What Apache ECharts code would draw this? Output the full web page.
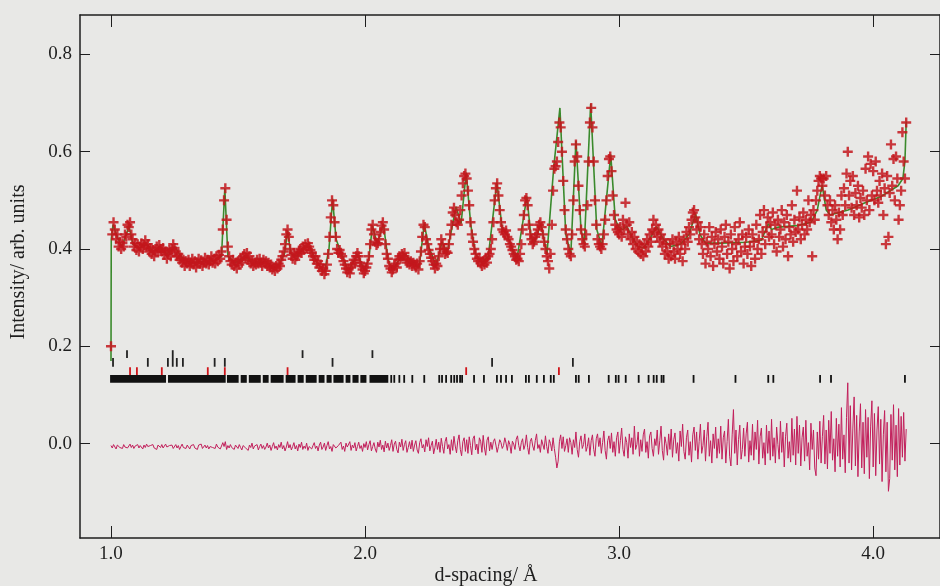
<!DOCTYPE html>
<html>
<head>
<meta charset="utf-8">
<script src="https://cdn.jsdelivr.net/npm/echarts@6/dist/echarts.min.js"></script>
<style>
  html, body { margin: 0; padding: 0; background: #e8e8e6; }
  #chart { width: 940px; height: 586px; }
</style>
</head>
<body>
<div id="chart"></div>
<script>
// observed intensities, one row per 0.1 Å, sampled every 0.005 Å from 1.000 Å
const obsStart = 1.0
const obsStep = 0.005
const observed = [
  0.20, 0.43, 0.455, 0.44, 0.42, 0.43, 0.405, 0.415, 0.40, 0.412, 0.405, 0.43, 0.425, 0.45, 0.445, 0.455, 0.43, 0.42, 0.405, 0.412,
  0.398, 0.41, 0.395, 0.405, 0.412, 0.40, 0.408, 0.418, 0.405, 0.41, 0.395, 0.402, 0.39, 0.398, 0.385, 0.395, 0.405, 0.395, 0.408, 0.40,
  0.395, 0.402, 0.388, 0.395, 0.38, 0.39, 0.398, 0.385, 0.40, 0.41, 0.402, 0.395, 0.385, 0.39, 0.378, 0.382, 0.372, 0.378, 0.365, 0.375,
  0.37, 0.378, 0.365, 0.372, 0.38, 0.368, 0.375, 0.362, 0.372, 0.38, 0.37, 0.377, 0.365, 0.372, 0.382, 0.37, 0.378, 0.368, 0.375, 0.385,
  0.372, 0.38, 0.37, 0.385, 0.375, 0.388, 0.38, 0.395, 0.44, 0.50, 0.525, 0.46, 0.405, 0.385, 0.375, 0.368, 0.378, 0.365, 0.372, 0.36,
  0.375, 0.368, 0.38, 0.372, 0.385, 0.39, 0.382, 0.392, 0.378, 0.385, 0.37, 0.375, 0.365, 0.372, 0.368, 0.378, 0.37, 0.38, 0.372, 0.365,
  0.378, 0.37, 0.375, 0.365, 0.372, 0.362, 0.368, 0.358, 0.362, 0.355, 0.365, 0.36, 0.37, 0.365, 0.378, 0.385, 0.395, 0.41, 0.43, 0.44,
  0.425, 0.40, 0.388, 0.38, 0.392, 0.378, 0.385, 0.39, 0.395, 0.40, 0.392, 0.405, 0.398, 0.41, 0.402, 0.412, 0.405, 0.398, 0.392, 0.385,
  0.378, 0.385, 0.37, 0.375, 0.362, 0.368, 0.355, 0.36, 0.348, 0.355, 0.368, 0.39, 0.425, 0.465, 0.50, 0.49, 0.455, 0.425, 0.40, 0.392,
  0.398, 0.39, 0.385, 0.375, 0.368, 0.36, 0.352, 0.358, 0.35, 0.362, 0.368, 0.378, 0.372, 0.385, 0.392, 0.385, 0.372, 0.365, 0.358, 0.35,
  0.355, 0.362, 0.37, 0.385, 0.41, 0.44, 0.45, 0.43, 0.415, 0.408, 0.412, 0.42, 0.435, 0.448, 0.455, 0.44, 0.41, 0.39, 0.38, 0.365,
  0.36, 0.352, 0.358, 0.365, 0.37, 0.362, 0.378, 0.385, 0.38, 0.39, 0.385, 0.392, 0.38, 0.372, 0.378, 0.368, 0.375, 0.365, 0.372, 0.368,
  0.362, 0.37, 0.358, 0.375, 0.395, 0.425, 0.45, 0.445, 0.42, 0.41, 0.398, 0.39, 0.382, 0.375, 0.368, 0.36, 0.37, 0.365, 0.385, 0.40,
  0.42, 0.41, 0.40, 0.39, 0.395, 0.392, 0.41, 0.43, 0.45, 0.475, 0.485, 0.47, 0.455, 0.45, 0.46, 0.48, 0.51, 0.535, 0.55, 0.555,
  0.545, 0.52, 0.49, 0.455, 0.43, 0.415, 0.40, 0.39, 0.38, 0.375, 0.382, 0.37, 0.365, 0.375, 0.368, 0.38, 0.372, 0.385, 0.39, 0.40,
  0.42, 0.455, 0.50, 0.525, 0.535, 0.51, 0.48, 0.455, 0.44, 0.435, 0.43, 0.438, 0.425, 0.42, 0.41, 0.405, 0.398, 0.39, 0.385, 0.378,
  0.38, 0.375, 0.39, 0.41, 0.44, 0.47, 0.50, 0.505, 0.49, 0.45, 0.43, 0.42, 0.41, 0.415, 0.425, 0.43, 0.44, 0.45, 0.455, 0.445,
  0.43, 0.415, 0.40, 0.385, 0.375, 0.36, 0.39, 0.45, 0.52, 0.565, 0.57, 0.58, 0.62, 0.66, 0.65, 0.60, 0.54, 0.48, 0.44, 0.42,
  0.40, 0.39, 0.385, 0.43, 0.50, 0.58, 0.615, 0.59, 0.53, 0.48, 0.44, 0.42, 0.41, 0.405, 0.43, 0.49, 0.58, 0.66, 0.69, 0.65,
  0.58, 0.50, 0.45, 0.42, 0.41, 0.405, 0.40, 0.41, 0.43, 0.46, 0.50, 0.55, 0.585, 0.59, 0.56, 0.51, 0.47, 0.45, 0.44, 0.435,
  0.43, 0.445, 0.425, 0.46, 0.44, 0.495, 0.45, 0.43, 0.455, 0.42, 0.435, 0.41, 0.425, 0.40, 0.415, 0.395, 0.41, 0.39, 0.405, 0.385,
  0.41, 0.395, 0.42, 0.405, 0.43, 0.415, 0.44, 0.46, 0.435, 0.45, 0.425, 0.44, 0.415, 0.43, 0.405, 0.42, 0.39, 0.41, 0.395, 0.38,
  0.41, 0.385, 0.42, 0.395, 0.38, 0.415, 0.40, 0.425, 0.39, 0.41, 0.375, 0.42, 0.40, 0.435, 0.415, 0.445, 0.43, 0.46, 0.475, 0.48,
  0.465, 0.44, 0.455, 0.42, 0.445, 0.41, 0.39, 0.43, 0.37, 0.415, 0.40, 0.445, 0.385, 0.425, 0.365, 0.41, 0.435, 0.395, 0.42, 0.38,
  0.44, 0.405, 0.37, 0.425, 0.45, 0.39, 0.415, 0.36, 0.43, 0.40, 0.375, 0.445, 0.41, 0.385, 0.42, 0.455, 0.395, 0.43, 0.37, 0.405,
  0.425, 0.39, 0.44, 0.405, 0.365, 0.43, 0.415, 0.38, 0.45, 0.40, 0.42, 0.47, 0.39, 0.435, 0.48, 0.41, 0.445, 0.465, 0.425, 0.455,
  0.43, 0.475, 0.41, 0.45, 0.395, 0.46, 0.425, 0.44, 0.48, 0.405, 0.455, 0.42, 0.47, 0.385, 0.445, 0.43, 0.49, 0.415, 0.46, 0.435,
  0.52, 0.44, 0.465, 0.42, 0.45, 0.475, 0.43, 0.46, 0.44, 0.50, 0.455, 0.47, 0.385, 0.48, 0.46, 0.50, 0.52, 0.54, 0.55, 0.545,
  0.53, 0.545, 0.51, 0.55, 0.49, 0.47, 0.50, 0.455, 0.48, 0.44, 0.49, 0.46, 0.42, 0.475, 0.44, 0.51, 0.47, 0.525, 0.49, 0.555,
  0.60, 0.51, 0.54, 0.485, 0.55, 0.47, 0.515, 0.49, 0.53, 0.465, 0.505, 0.485, 0.52, 0.47, 0.565, 0.50, 0.59, 0.48, 0.575, 0.51,
  0.56, 0.50, 0.58, 0.52, 0.495, 0.54, 0.51, 0.555, 0.47, 0.525, 0.41, 0.55, 0.425, 0.515, 0.615, 0.53, 0.585, 0.50, 0.59, 0.545,
  0.46, 0.49, 0.52, 0.64, 0.58, 0.545, 0.66
]

// difference curve (obs - calc), same sampling as observed
const difference = [
  -0.004, -0.009, -0.002, -0.006, -0.011, -0.003, -0.001, -0.008, -0.005, -0.010, -0.002, -0.007, -0.004, -0.009, -0.006, -0.001, -0.008, -0.003, -0.010, -0.005,
  -0.007, -0.002, -0.009, -0.004, -0.006, -0.011, -0.003, -0.008, -0.001, -0.006, -0.010, -0.004, -0.007, -0.002, -0.009, -0.005, -0.012, -0.003, -0.006, -0.008,
  -0.002, -0.009, -0.005, -0.001, -0.007, -0.011, -0.004, -0.008, -0.003, -0.010, -0.006, -0.002, -0.009, -0.004, -0.012, -0.006, -0.001, -0.008, -0.005, -0.010,
  -0.003, -0.007, -0.011, -0.004, -0.008, -0.002, -0.009, -0.005, -0.012, -0.003, -0.007, -0.001, -0.010, -0.006, -0.003, -0.009, -0.004, -0.011, -0.006, -0.002,
  -0.008, -0.004, -0.010, -0.001, -0.007, -0.003, -0.011, -0.005, 0.002, -0.006, 0.004, -0.012, -0.004, -0.009, -0.002, -0.008, -0.005, -0.012, -0.003, -0.007,
  -0.010, -0.002, -0.008, -0.013, -0.004, 0.000, -0.009, -0.006, -0.014, -0.003, -0.008, 0.001, -0.011, -0.005, -0.009, -0.002, -0.013, -0.006, -0.001, -0.010,
  -0.004, -0.012, -0.007, 0.001, -0.009, -0.003, -0.014, -0.006, 0.002, -0.010, -0.005, -0.013, -0.002, -0.008, 0.003, -0.011, -0.004, -0.015, -0.007, 0.004,
  -0.009, -0.002, -0.013, -0.006, 0.002, -0.011, -0.004, -0.015, -0.001, -0.008, 0.003, -0.012, -0.005, -0.010, 0.001, -0.014, -0.006, -0.002, -0.011, -0.004,
  0.002, -0.010, -0.005, -0.015, -0.003, 0.003, -0.012, -0.007, 0.001, -0.014, -0.004, 0.004, -0.011, -0.006, -0.016, -0.002, 0.002, -0.009, -0.013, -0.004,
  -0.008, 0.003, -0.012, -0.005, -0.016, 0.001, -0.007, -0.011, 0.004, -0.014, -0.003, -0.009, 0.002, -0.015, -0.006, 0.003, -0.010, -0.004, -0.016, 0.000,
  -0.008, 0.004, -0.013, -0.002, 0.006, -0.015, -0.006, 0.002, -0.011, -0.018, 0.003, -0.007, 0.007, -0.012, -0.003, -0.017, 0.005, -0.009, 0.001, -0.014,
  -0.004, 0.008, -0.016, -0.001, 0.005, -0.012, -0.019, 0.003, -0.007, 0.009, -0.014, -0.002, 0.006, -0.018, -0.008, 0.004, -0.011, 0.007, -0.016, -0.003,
  0.006, -0.013, -0.020, 0.002, 0.010, -0.009, -0.002, -0.017, 0.008, -0.006, 0.012, -0.015, -0.004, 0.005, -0.021, -0.008, 0.009, -0.012, 0.003, -0.018,
  0.011, -0.006, -0.020, 0.004, 0.013, -0.011, -0.002, -0.022, 0.008, -0.014, 0.015, -0.005, -0.019, 0.006, 0.018, -0.012, -0.025, 0.004, 0.012, -0.016,
  0.008, -0.020, 0.014, -0.004, -0.023, 0.010, 0.016, -0.013, -0.001, -0.021, 0.012, 0.005, -0.018, 0.017, -0.009, -0.024, 0.007, 0.014, -0.015, 0.003,
  -0.012, 0.004, 0.010, -0.003, -0.018, -0.006, 0.008, 0.002, -0.010, -0.004, 0.012, 0.001, -0.014, 0.006, -0.002, -0.020, 0.005, -0.001, -0.012, 0.009,
  0.016, -0.004, -0.015, 0.002, 0.010, -0.012, -0.003, 0.018, -0.008, -0.022, 0.004, 0.011, -0.005, -0.014, 0.006, 0.020, -0.010, -0.002, -0.018, 0.008,
  0.004, -0.012, 0.016, -0.006, -0.020, 0.008, 0.000, -0.015, 0.012, -0.010, -0.028, -0.050, -0.036, 0.004, 0.018, -0.010, 0.014, -0.016, -0.004, 0.010,
  -0.018, 0.012, 0.002, -0.022, 0.008, -0.008, 0.024, -0.012, -0.028, 0.004, 0.016, -0.010, -0.002, 0.020, -0.016, -0.006, 0.012, -0.024, 0.006, 0.018,
  -0.012, -0.026, 0.010, 0.020, -0.006, 0.012, -0.020, 0.002, 0.026, -0.014, -0.032, 0.006, 0.016, -0.010, 0.022, -0.018, 0.004, -0.026, 0.012, 0.024,
  -0.020, 0.006, 0.032, -0.012, -0.026, 0.014, 0.002, -0.030, 0.020, -0.008, 0.012, -0.022, 0.036, -0.012, -0.002, 0.024, -0.026, 0.008, -0.016, 0.018,
  0.030, -0.018, 0.004, -0.030, 0.016, 0.024, -0.010, -0.026, 0.010, -0.004, 0.028, -0.022, 0.006, 0.036, -0.014, -0.034, 0.014, 0.000, -0.024, 0.020,
  -0.012, 0.030, -0.028, 0.008, 0.022, -0.020, 0.002, -0.036, 0.026, -0.006, 0.040, -0.016, -0.032, 0.012, 0.028, -0.024, 0.004, -0.038, 0.018, 0.034,
  -0.014, 0.024, -0.032, 0.004, 0.040, -0.020, -0.004, 0.028, -0.036, 0.014, 0.044, -0.026, 0.006, -0.040, 0.020, -0.010, 0.034, -0.030, 0.010, -0.020,
  0.036, -0.032, 0.012, 0.026, -0.040, 0.004, 0.050, -0.026, -0.046, 0.018, 0.070, -0.020, 0.028, -0.044, 0.008, 0.038, -0.032, -0.012, 0.032, -0.026,
  0.020, 0.044, -0.038, 0.006, -0.024, 0.040, -0.034, 0.024, -0.012, 0.048, -0.042, 0.014, 0.032, -0.030, 0.002, -0.044, 0.038, -0.020, 0.026, -0.034,
  0.050, -0.026, 0.012, -0.040, 0.034, -0.002, -0.032, 0.046, -0.018, 0.024, -0.048, 0.014, 0.042, -0.030, 0.004, -0.038, 0.052, -0.024, 0.030, -0.044,
  0.056, -0.020, 0.038, -0.046, 0.012, 0.034, -0.036, 0.048, -0.026, 0.002, -0.054, 0.042, -0.012, 0.028, -0.050, -0.066, 0.024, -0.032, 0.046, -0.040,
  0.014, 0.058, -0.042, 0.028, -0.052, 0.048, -0.020, 0.066, -0.034, 0.010, -0.058, 0.052, -0.026, 0.040, -0.048, 0.074, -0.032, 0.018, -0.060, 0.054,
  0.125, -0.040, 0.078, -0.054, 0.032, 0.096, -0.046, 0.058, -0.068, 0.024, 0.082, -0.050, 0.044, -0.062, 0.070, -0.028, 0.054, -0.072, 0.036, 0.088,
  -0.048, 0.062, -0.066, 0.028, 0.076, -0.042, 0.050, -0.078, 0.018, 0.068, -0.058, 0.044, -0.098, -0.072, 0.060, -0.034, 0.080, -0.054, 0.038, -0.068,
  0.072, -0.044, 0.056, -0.028, 0.064, -0.036, 0.030
]

// calculated profile, vertices
const calcD = [
  1.000, 1.001, 1.008, 1.025, 1.043, 1.060, 1.071, 1.086, 1.110, 1.141,
  1.165, 1.192, 1.220, 1.251, 1.275, 1.298, 1.330, 1.370, 1.410, 1.435,
  1.448, 1.460, 1.490, 1.526, 1.560, 1.590, 1.612, 1.640, 1.660, 1.683,
  1.695, 1.708, 1.730, 1.765, 1.781, 1.810, 1.840, 1.858, 1.872, 1.886,
  1.907, 1.934, 1.950, 1.970, 1.997, 2.015, 2.029, 2.048, 2.072, 2.090,
  2.107, 2.130, 2.154, 2.194, 2.213, 2.233, 2.250, 2.280, 2.303, 2.323,
  2.358, 2.378, 2.398, 2.416, 2.435, 2.460, 2.485, 2.519, 2.540, 2.559,
  2.586, 2.598, 2.637, 2.652, 2.665, 2.692, 2.716, 2.743, 2.767, 2.790,
  2.810, 2.830, 2.850, 2.863, 2.888, 2.912, 2.932, 2.967, 2.985, 2.998,
  3.015, 3.030, 3.050, 3.075, 3.097, 3.125, 3.148, 3.175, 3.203, 3.242,
  3.275, 3.301, 3.318, 3.340, 3.400, 3.500, 3.560, 3.587, 3.600, 3.627,
  3.700, 3.756, 3.780, 3.799, 3.815, 3.831, 3.901, 3.968, 4.031, 4.098,
  4.117, 4.125, 4.130
]
const calcI = [
  0.17, 0.42, 0.45, 0.425, 0.405, 0.43, 0.447, 0.41, 0.402, 0.41,
  0.396, 0.402, 0.39, 0.405, 0.385, 0.374, 0.372, 0.375, 0.376, 0.385,
  0.525, 0.385, 0.372, 0.385, 0.37, 0.374, 0.374, 0.362, 0.368, 0.39,
  0.438, 0.39, 0.385, 0.405, 0.405, 0.372, 0.352, 0.40, 0.503, 0.42,
  0.39, 0.355, 0.37, 0.39, 0.356, 0.38, 0.448, 0.41, 0.452, 0.38,
  0.356, 0.375, 0.39, 0.37, 0.362, 0.452, 0.405, 0.366, 0.415, 0.392,
  0.487, 0.452, 0.557, 0.45, 0.39, 0.372, 0.385, 0.537, 0.44, 0.43,
  0.39, 0.38, 0.508, 0.43, 0.41, 0.452, 0.39, 0.57, 0.69, 0.43,
  0.39, 0.622, 0.44, 0.41, 0.698, 0.44, 0.405, 0.594, 0.46, 0.446,
  0.44, 0.447, 0.425, 0.405, 0.402, 0.425, 0.446, 0.42, 0.405, 0.41,
  0.43, 0.472, 0.43, 0.412, 0.412, 0.414, 0.418, 0.452, 0.44, 0.445,
  0.448, 0.455, 0.48, 0.532, 0.48, 0.47, 0.48, 0.495, 0.508, 0.53,
  0.545, 0.58, 0.662
]

// reflection markers (d-spacing of each tick)
const phaseTopTicks = [1.063, 1.243, 1.754, 2.029]
const phaseMidTicks = [1.008, 1.145, 1.224, 1.243, 1.259, 1.283, 1.408, 1.448, 1.872, 2.500, 2.818]
const phaseRedTicks = [1.075, 1.102, 1.200, 1.381, 1.448, 1.695, 2.398, 2.763]
const mainBands = [
  [1.000, 1.220], [1.228, 1.455], [1.460, 1.506], [1.514, 1.538], [1.546, 1.593],
  [1.601, 1.624], [1.632, 1.683], [1.691, 1.730], [1.738, 1.762], [1.770, 1.813],
  [1.821, 1.844], [1.852, 1.872], [1.879, 1.919], [1.927, 1.946], [1.954, 1.978],
  [1.985, 2.009], [2.021, 2.095]
]
const mainTicks = [
  2.103, 2.115, 2.135, 2.154, 2.186, 2.233, 2.292, 2.303, 2.319, 2.339,
  2.351, 2.362, 2.374, 2.382, 2.429, 2.468, 2.519, 2.535, 2.555, 2.578,
  2.633, 2.645, 2.676, 2.704, 2.731, 2.743, 2.830, 2.841, 2.881, 2.959,
  2.987, 2.998, 3.026, 3.077, 3.116, 3.136, 3.148, 3.167, 3.175, 3.293,
  3.458, 3.587, 3.607, 3.791, 3.834, 4.125
]

const xTicks = [1, 2, 3, 4]
const yTicks = [0, 0.2, 0.4, 0.6, 0.8]

const dAt = i => +(obsStart + i * obsStep).toFixed(3)
const obsData = observed.map((v, i) => [dAt(i), v])
const diffData = difference.map((v, i) => [dAt(i), v])
const calcData = calcD.map((d, i) => [d, calcI[i]])

const serif = 'Liberation Serif, Times New Roman, serif'
const ink = '#1e1e1e'

const tickSeries = (name, data, y0, y1, color) => ({
  name,
  type: 'custom',
  silent: true,
  z: 3,
  data,
  encode: { x: [0, 1], y: 0 },
  renderItem: (params, api) => {
    const a = api.coord([api.value(0), y0])
    const b = api.coord([api.value(1), y1])
    const w = Math.max(b[0] - a[0], 1.8)
    return {
      type: 'rect',
      shape: { x: a[0] - 0.9, y: b[1], width: w, height: a[1] - b[1] },
      style: { fill: color }
    }
  }
})

const xMin = 0.878
const xMax = 4.263
const yMin = -0.194
const yMax = 0.881

const chart = echarts.init(document.getElementById('chart'), null, { renderer: 'canvas' })

const option = {
  backgroundColor: '#e8e8e6',
  animation: false,
  grid: { left: 80, top: 15, width: 862, height: 523 },
  xAxis: [
    {
      type: 'value',
      position: 'bottom',
      min: xMin,
      max: xMax,
      axisLine: { show: true, onZero: false, lineStyle: { color: ink, width: 1.5 } },
      axisTick: { show: true, inside: true, length: 12, customValues: xTicks, lineStyle: { color: ink, width: 1 } },
      axisLabel: {
        customValues: xTicks,
        formatter: v => v.toFixed(1),
        fontFamily: serif,
        fontSize: 19,
        color: ink,
        margin: 7
      },
      splitLine: { show: false }
    },
    {
      type: 'value',
      position: 'top',
      min: xMin,
      max: xMax,
      axisLine: { show: true, onZero: false, lineStyle: { color: ink, width: 1.5 } },
      axisTick: { show: true, inside: true, length: 12, customValues: xTicks, lineStyle: { color: ink, width: 1 } },
      axisLabel: { show: false },
      splitLine: { show: false }
    }
  ],
  yAxis: [
    {
      type: 'value',
      position: 'left',
      min: yMin,
      max: yMax,
      axisLine: { show: true, onZero: false, lineStyle: { color: ink, width: 1.5 } },
      axisTick: { show: true, inside: true, length: 10, customValues: yTicks, lineStyle: { color: ink, width: 1 } },
      axisLabel: {
        customValues: yTicks,
        formatter: v => v.toFixed(1),
        fontFamily: serif,
        fontSize: 19,
        color: ink,
        margin: 8
      },
      splitLine: { show: false }
    },
    {
      type: 'value',
      position: 'right',
      min: yMin,
      max: yMax,
      axisLine: { show: true, onZero: false, lineStyle: { color: ink, width: 1.5 } },
      axisTick: { show: true, inside: true, length: 10, customValues: yTicks, lineStyle: { color: ink, width: 1 } },
      axisLabel: { show: false },
      splitLine: { show: false }
    }
  ],
  graphic: [
    {
      type: 'text',
      x: 486,
      y: 576,
      style: {
        text: 'd-spacing/ Å',
        font: '20px ' + serif,
        fill: ink,
        align: 'center',
        verticalAlign: 'middle'
      }
    },
    {
      type: 'text',
      x: 19,
      y: 262,
      rotation: Math.PI / 2,
      style: {
        text: 'Intensity/ arb. units',
        font: '20px ' + serif,
        fill: ink,
        align: 'center',
        verticalAlign: 'middle'
      }
    }
  ],
  series: [
    {
      name: 'difference',
      type: 'line',
      data: diffData,
      showSymbol: false,
      z: 2,
      lineStyle: { color: '#c21f5b', width: 1 }
    },
    {
      name: 'calculated',
      type: 'line',
      data: calcData,
      showSymbol: false,
      z: 4,
      lineStyle: { color: '#3a8a2c', width: 1.6 }
    },
    {
      name: 'observed',
      type: 'scatter',
      data: obsData,
      symbol: 'path://M3.8 0H6.2V3.8H10V6.2H6.2V10H3.8V6.2H0V3.8H3.8Z',
      symbolSize: 10,
      z: 5,
      itemStyle: { color: '#c3161c', opacity: 0.85 }
    },
    tickSeries('phase 3', phaseTopTicks.map(d => [d, d]), 0.176, 0.192, '#222'),
    tickSeries('phase 2', phaseMidTicks.map(d => [d, d]), 0.158, 0.176, '#222'),
    tickSeries('phase red', phaseRedTicks.map(d => [d, d]), 0.141, 0.157, '#d0141a'),
    tickSeries('phase 1 bands', mainBands, 0.125, 0.141, '#111'),
    tickSeries('phase 1', mainTicks.map(d => [d, d]), 0.125, 0.141, '#111')
  ]
}

chart.setOption(option)
</script>
</body>
</html>
